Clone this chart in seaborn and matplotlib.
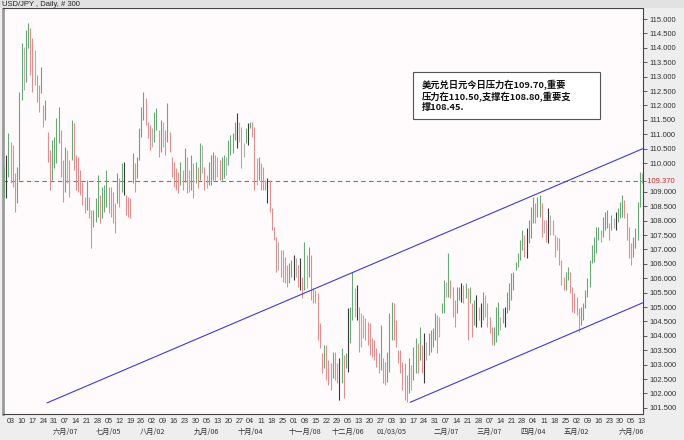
import numpy as np
import pandas as pd
import matplotlib
matplotlib.use("Agg")
import matplotlib.pyplot as plt
import seaborn as sns
from matplotlib.patches import Rectangle
from matplotlib.transforms import blended_transform_factory

# ---- data -----------------------------------------------------------------
symbol_title = "USD/JPY , Daily, # 300"
first_day = "2004-04-28"
last_day = "2005-06-13"

bar_highs = [
    109.86, 110.28, 111.04, 110.73, 110.62, 109.65, 109.86, 112.47, 114.17, 114.03,
    114.62, 114.86, 114.69, 114.34, 113.92, 113.06, 112.71, 113.33, 112.01, 112.19,
    111.08, 110.45, 110.80, 110.90, 111.56, 111.94, 111.15, 110.10, 110.56, 110.45,
    110.10, 111.49, 111.39, 110.28, 110.21, 109.76, 109.34, 108.82, 109.41, 108.82,
    108.37, 108.37, 108.79, 109.58, 108.89, 109.17, 109.24, 109.76, 109.17, 109.17,
    108.99, 108.61, 109.65, 109.48, 110.00, 110.04, 108.89, 108.82, 108.79, 110.35,
    110.00, 110.21, 111.22, 111.94, 112.47, 112.26, 111.42, 111.32, 111.22, 111.77,
    111.91, 111.15,
    111.49, 111.43, 111.15, 112.10, 111.09, 110.22, 110.04, 109.82, 109.70, 110.04,
    109.76, 110.51, 110.22, 109.76, 110.28, 109.99, 110.04, 109.87, 110.68, 110.62,
    109.87, 109.58, 110.04, 110.28, 110.39, 110.28, 110.22, 110.10, 110.22, 110.28,
    110.22, 110.80, 110.97, 111.03, 111.43, 111.73, 111.43, 111.26, 110.68, 111.20,
    111.38, 111.43, 111.43, 111.26, 110.16, 110.22, 109.99, 109.87, 109.41, 109.47,
    109.41, 108.43, 107.79, 107.44, 107.27, 106.98, 106.98, 106.75, 106.46, 106.52,
    106.63, 106.81, 106.69, 106.46, 106.69, 106.05, 107.27, 106.81, 107.09, 106.81,
    105.65, 105.59, 105.48,
    104.43, 103.39, 103.68, 103.68, 103.16, 103.04, 103.45, 103.45, 103.04, 103.22,
    103.57, 103.33, 103.39, 104.95, 105.01, 106.23, 105.65, 105.76, 105.01, 104.78,
    104.72, 104.61, 104.49, 104.43, 103.91, 103.86, 103.57, 103.39, 104.37, 103.22,
    103.10, 103.45, 104.78, 105.19, 105.13, 104.55, 103.51, 103.51, 103.10, 103.04,
    102.64, 103.22, 102.99, 103.62, 103.91, 103.74, 104.32, 103.68, 104.09, 103.80,
    104.09, 104.20, 104.26, 104.78, 104.72, 104.66, 105.13, 105.94, 105.88, 106.86,
    105.94, 105.70, 105.24, 105.70, 105.70, 105.82, 105.76, 105.82, 105.65, 105.70,
    105.13, 105.24, 105.42, 105.01, 105.13, 105.53, 105.42, 105.13, 104.66, 104.32,
    104.32, 105.01, 105.19, 104.66, 104.95, 105.01, 105.53, 105.82, 106.17, 106.23,
    106.57, 106.86, 107.33, 107.67, 107.50, 107.73, 108.02, 108.48, 108.83, 108.60,
    108.83, 108.89, 108.60, 108.02, 108.02, 108.43, 108.19, 108.02, 107.50, 107.44,
    107.39, 106.63, 106.05, 106.23, 106.40, 106.23, 105.70, 105.48, 105.36, 104.95,
    105.01, 105.13, 105.59, 106.00, 106.63, 107.15, 107.44, 107.79, 107.79, 107.67,
    108.14, 108.31, 108.37, 107.91, 108.19, 108.08, 108.31, 108.43, 108.66, 108.89,
    108.72, 108.25, 107.79, 107.21, 107.44, 107.73, 108.66, 109.70, 109.65,
]

bar_lows = [
    108.82, 108.79, 109.51, 109.30, 109.17, 108.30, 108.61, 109.41, 112.19, 112.54,
    112.81, 113.99, 113.06, 112.47, 112.71, 112.12, 111.77, 112.43, 111.25, 111.49,
    110.04, 109.06, 109.41, 109.83, 110.00, 110.69, 109.51, 108.65, 108.99, 109.30,
    108.82, 110.10, 109.76, 109.06, 108.99, 108.89, 108.54, 108.26, 108.37, 108.09,
    107.05, 107.78, 107.95, 108.12, 107.92, 108.09, 108.30, 108.47, 108.26, 108.12,
    107.92, 107.57, 108.61, 108.47, 108.99, 108.89, 108.19, 108.12, 108.09, 109.30,
    108.99, 109.48, 110.10, 110.90, 111.49, 111.32, 110.87, 110.45, 110.56, 110.73,
    111.15, 110.21,
    110.39, 110.57, 110.28, 110.74, 110.39, 109.52, 109.18, 109.06, 108.95, 109.24,
    109.06, 109.35, 108.95, 109.00, 109.06, 108.77, 109.30, 109.12, 109.41, 109.64,
    109.06, 109.12, 109.24, 109.24, 109.41, 109.41, 109.52, 109.41, 109.41, 109.47,
    109.58, 109.93, 110.28, 110.33, 110.80, 110.51, 110.74, 109.82, 110.22, 110.68,
    110.62, 111.20, 110.91, 109.06, 109.24, 109.41, 109.06, 109.06, 109.06, 108.60,
    108.31, 107.67, 107.33, 106.23, 106.28, 106.05, 105.88, 105.82, 105.70, 105.82,
    106.05, 105.94, 106.05, 105.70, 105.59, 105.30, 105.59, 105.65, 106.05, 105.24,
    105.13, 105.13, 103.85,
    103.57, 102.70, 102.87, 102.47, 102.29, 102.12, 102.53, 102.47, 102.35, 101.77,
    102.35, 101.83, 102.87, 102.75, 103.74, 104.55, 104.66, 104.55, 103.45, 103.62,
    103.91, 103.86, 103.68, 103.33, 103.27, 103.16, 102.93, 102.70, 102.81, 102.35,
    102.29, 102.41, 102.75, 103.86, 103.86, 103.62, 103.04, 102.70, 102.12, 101.77,
    101.71, 102.00, 102.12, 102.47, 102.70, 102.70, 103.16, 102.70, 102.35, 103.16,
    103.33, 103.45, 103.62, 103.86, 103.39, 103.97, 104.78, 104.78, 105.36, 105.36,
    105.30, 104.66, 104.32, 104.78, 105.24, 105.18, 105.13, 105.30, 103.86, 105.13,
    103.97, 104.37, 104.32, 104.55, 104.32, 104.55, 104.66, 104.32, 104.09, 103.68,
    103.68, 103.80, 104.03, 104.20, 104.43, 104.32, 104.78, 104.90, 105.24, 105.59,
    106.28, 106.40, 106.63, 106.98, 106.75, 106.69, 107.21, 107.39, 107.91, 107.91,
    108.14, 108.14, 107.44, 107.56, 107.27, 107.21, 107.50, 107.50, 106.75, 106.98,
    106.46, 105.76, 105.59, 105.59, 105.94, 105.48, 104.84, 104.78, 104.72, 104.14,
    104.37, 104.55, 104.95, 105.36, 105.70, 106.52, 106.57, 106.86, 107.33, 107.27,
    107.44, 107.67, 107.73, 107.33, 107.67, 107.73, 107.67, 107.96, 108.08, 108.14,
    108.08, 107.33, 106.69, 106.46, 106.75, 107.04, 107.33, 108.48, 109.31,
]

last_price = 109.37

# trend channel drawn by the analyst (bar position, price)
upper_line_bars = [19.7, 293.5]
upper_line_prices = [101.67, 110.50]
lower_line_bars = [186.5, 293.5]
lower_line_prices = [101.69, 105.15]

price_ticks = [101.5, 102.0, 102.5, 103.0, 103.5, 104.0, 104.5, 105.0, 105.5,
               106.0, 106.5, 107.0, 107.5, 108.0, 108.5, 109.0, 110.0,
               110.5, 111.0, 111.5, 112.0, 112.5, 113.0, 113.5, 114.0, 114.5, 115.0]

cn_months = ["一月", "二月", "三月", "四月", "五月", "六月",
             "七月", "八月", "九月", "十月", "十一月", "十二月"]
month_label_days = ["2004-06-07", "2004-07-05", "2004-08-02", "2004-09-06",
                    "2004-10-04", "2004-11-08", "2004-12-06", "2005-01-03",
                    "2005-02-07", "2005-03-07", "2005-04-04", "2005-05-02",
                    "2005-06-06"]

comment_text = ("美元兑日元今日压力在109.70,重要\n"
                "压力在110.50,支撑在108.80,重要支\n"
                "撑108.45.")

# ---- styling --------------------------------------------------------------
sns.set_theme(style="white")
plt.rcParams["font.family"] = ["Liberation Sans", "DejaVu Sans"]
cjk = ["Noto Sans CJK SC", "DejaVu Sans"]

dates = pd.bdate_range(first_day, last_day)
n = len(dates)
assert n == len(bar_highs) == len(bar_lows)
idx = np.arange(n)
highs = np.array(bar_highs)
lows = np.array(bar_lows)

# bar colours: outside bars dark, inside bars grey, otherwise up / down
colors = []
for i in range(n):
    if i == 0:
        colors.append("#6aa878")
        continue
    if highs[i] > highs[i - 1] and lows[i] < lows[i - 1]:
        colors.append("#3a3a3a")
    elif highs[i] < highs[i - 1] and lows[i] > lows[i - 1]:
        colors.append("#b0b0b0")
    elif highs[i] + lows[i] >= highs[i - 1] + lows[i - 1]:
        colors.append("#6aa878")
    else:
        colors.append("#dd9090")

W, H = 684, 440
fig = plt.figure(figsize=(W / 100, H / 100), dpi=100)
fig.patch.set_facecolor("#eeeeee")

# header strip
fig.patches.append(Rectangle((0, 1 - 8 / H), 1, 8 / H, transform=fig.transFigure,
                             facecolor="#e2e2e2", edgecolor="none", zorder=0))
fig.text(2 / W, 1 - 4 / H, symbol_title, fontsize=5.5, color="#222222",
         va="center", ha="left")

ax = fig.add_axes([3 / W, 1 - 414 / H, 640 / W, 406 / H])
ax.set_facecolor("#fffbfc")

ax.vlines(idx, lows, highs, colors=colors, linewidth=0.8, zorder=3)

sns.lineplot(x=upper_line_bars, y=upper_line_prices, ax=ax, color="#3c3cd2",
             linewidth=0.8, zorder=4)
sns.lineplot(x=lower_line_bars, y=lower_line_prices, ax=ax, color="#3c3cd2",
             linewidth=0.8, zorder=4)
ax.axhline(last_price, color="#d65050", linewidth=0.8, linestyle=(0, (4, 3)),
           zorder=2)

ax.set_xlim(-0.5, n - 0.5)
ax.set_ylim(101.285, 115.382)

# price axis on the right
ax.yaxis.tick_right()
ax.set_yticks(price_ticks)
ax.set_yticklabels([f"{p:.3f}" for p in price_ticks])
ax.tick_params(axis="y", which="both", right=True, left=False, length=3,
               width=0.6, color="#444444", labelsize=5.5, labelcolor="#333333",
               pad=1.5)
ax.text(1.0, last_price, "  " + f"{last_price:.3f}", color="#d03030",
        fontsize=5.5, va="center", ha="left",
        transform=blended_transform_factory(ax.transAxes, ax.transData))
ax.plot([1.0, 1.0 + 3 / 640], [last_price, last_price], color="#d03030",
        lw=0.6, transform=blended_transform_factory(ax.transAxes, ax.transData),
        clip_on=False)

# weekly date axis
monday_idx = [i for i, d in enumerate(dates) if d.weekday() == 0]
ax.set_xticks(monday_idx)
ax.set_xticklabels([f"{dates[i].day:02d}" for i in monday_idx])
ax.tick_params(axis="x", length=0, labelsize=5.2, labelcolor="#333333", pad=3)

date_pos = {d.strftime("%Y-%m-%d"): i for i, d in enumerate(dates)}
xtrans = blended_transform_factory(ax.transData, ax.transAxes)
for day in month_label_days:
    d = pd.Timestamp(day)
    if d.month == 1:
        label = d.strftime("%m/%d/%y")
    else:
        label = f"{cn_months[d.month - 1]}/{d.day:02d}"
    ax.text(date_pos[day], -0.0445, label, transform=xtrans, ha="center",
            va="center", fontsize=5.2, color="#333333", family=cjk)

for side in ["top", "right", "bottom"]:
    ax.spines[side].set_color("#444444")
    ax.spines[side].set_linewidth(0.8)
ax.spines["left"].set_color("#9a9a9a")
ax.spines["left"].set_linewidth(2.0)

# analyst comment box
ax.add_patch(Rectangle((0.6406, 0.7266), 0.2922, 0.1158, transform=ax.transAxes,
                       facecolor="white", edgecolor="#555555", linewidth=0.8,
                       zorder=5))
ax.text(0.6547, 0.8240, comment_text, transform=ax.transAxes, ha="left",
        va="top", fontsize=6.7, fontweight="bold", color="#111111",
        linespacing=1.22, family=cjk, zorder=6)

fig.savefig("out.png", dpi=100, facecolor=fig.get_facecolor())
